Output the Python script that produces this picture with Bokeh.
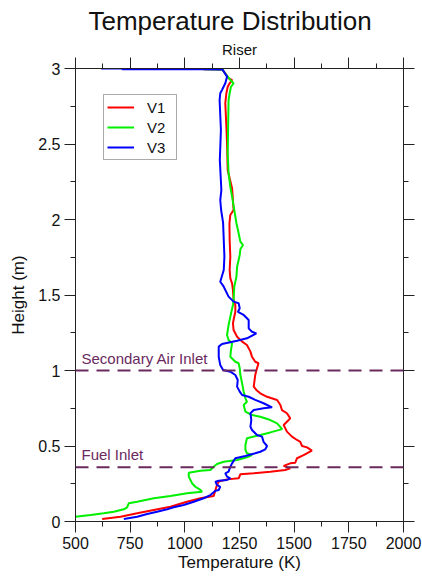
from bokeh.plotting import figure
from bokeh.models import LinearAxis, SingleIntervalTicker, Span, Label, Range1d, Title
from bokeh.embed import file_html
from bokeh.resources import INLINE

FONT = "Liberation Sans"

# Temperature profiles along the riser height (top of riser down to the bottom)
temp_v1 = [1085, 1172, 1185, 1200, 1216, 1205, 1196, 1190, 1185, 1190,
           1193, 1196, 1205, 1216, 1220, 1223, 1208, 1204, 1205, 1208,
           1205, 1208, 1216, 1220, 1223, 1231, 1231, 1226, 1220, 1223,
           1239, 1262, 1284, 1300, 1307, 1322, 1337, 1330, 1322, 1318,
           1315, 1327, 1345, 1376, 1422, 1437, 1444, 1467, 1482, 1467,
           1452, 1467, 1490, 1513, 1528, 1536, 1559, 1581, 1543, 1513,
           1505, 1482, 1452, 1482, 1459, 1391, 1315, 1254, 1246, 1193,
           1155, 1147, 1140, 1132, 1071, 1010, 934, 858, 782, 706,
           622]
height_v1 = [2.995, 2.993, 2.968, 2.935, 2.924, 2.902, 2.879, 2.836, 2.770, 2.615,
             2.505, 2.328, 2.273, 2.207, 2.129, 2.063, 2.030, 1.975, 1.864, 1.754,
             1.666, 1.611, 1.577, 1.533, 1.467, 1.434, 1.389, 1.356, 1.313, 1.268,
             1.224, 1.191, 1.169, 1.125, 1.091, 1.058, 1.048, 1.015, 0.970, 0.926,
             0.893, 0.871, 0.849, 0.826, 0.805, 0.772, 0.738, 0.717, 0.683, 0.661,
             0.639, 0.595, 0.562, 0.540, 0.528, 0.500, 0.491, 0.469, 0.440, 0.419,
             0.389, 0.385, 0.368, 0.352, 0.341, 0.330, 0.319, 0.313, 0.286, 0.279,
             0.264, 0.242, 0.209, 0.169, 0.154, 0.131, 0.098, 0.076, 0.054, 0.032,
             0.017]

temp_v2 = [1085, 1172, 1190, 1208, 1223, 1211, 1205, 1200, 1198, 1196,
           1200, 1208, 1216, 1226, 1236, 1246, 1254, 1266, 1254, 1251,
           1246, 1239, 1236, 1226, 1223, 1220, 1208, 1200, 1193, 1200,
           1216, 1211, 1208, 1231, 1246, 1251, 1254, 1262, 1269, 1277,
           1284, 1269, 1277, 1307, 1345, 1391, 1422, 1445, 1391, 1345,
           1284, 1277, 1277, 1284, 1307, 1284, 1239, 1178, 1147, 1132,
           1117, 1071, 1018, 1018, 1033, 1048, 1071, 1079, 1010, 934,
           858, 782, 744, 736, 721, 675, 629, 569, 500]
height_v2 = [2.995, 2.993, 2.957, 2.924, 2.902, 2.879, 2.836, 2.791, 2.615, 2.438,
             2.306, 2.217, 2.151, 2.063, 1.975, 1.909, 1.853, 1.831, 1.803, 1.765,
             1.732, 1.687, 1.621, 1.555, 1.467, 1.434, 1.356, 1.301, 1.235, 1.202,
             1.180, 1.136, 1.091, 1.058, 1.048, 1.015, 0.970, 0.915, 0.860, 0.816,
             0.793, 0.772, 0.727, 0.705, 0.694, 0.672, 0.650, 0.612, 0.590, 0.573,
             0.551, 0.507, 0.474, 0.452, 0.440, 0.425, 0.407, 0.396, 0.381, 0.363,
             0.341, 0.336, 0.323, 0.297, 0.253, 0.230, 0.209, 0.197, 0.187, 0.169,
             0.154, 0.131, 0.121, 0.094, 0.081, 0.065, 0.054, 0.043, 0.032]

temp_v3 = [617, 709, 715, 1085, 1172, 1193, 1185, 1170, 1162, 1159,
           1165, 1160, 1167, 1162, 1166, 1175, 1178, 1181, 1178, 1167,
           1162, 1178, 1200, 1223, 1246, 1251, 1243, 1269, 1292, 1292,
           1307, 1327, 1284, 1239, 1170, 1155, 1155, 1162, 1175, 1208,
           1231, 1242, 1239, 1251, 1262, 1292, 1322, 1360, 1399, 1360,
           1315, 1300, 1304, 1300, 1307, 1330, 1353, 1360, 1376, 1368,
           1345, 1322, 1277, 1231, 1216, 1208, 1200, 1185, 1193, 1208,
           1193, 1155, 1140, 1147, 1162, 1155, 1140, 1117, 1086, 1041,
           995, 949, 919, 873, 828, 782, 721]
height_v3 = [3.000, 3.000, 2.995, 2.995, 2.993, 2.946, 2.902, 2.858, 2.836, 2.791,
             2.593, 2.394, 2.195, 2.129, 2.063, 1.977, 1.864, 1.754, 1.666, 1.613,
             1.588, 1.555, 1.489, 1.456, 1.445, 1.412, 1.389, 1.368, 1.334, 1.279,
             1.257, 1.246, 1.213, 1.197, 1.175, 1.158, 1.091, 1.036, 1.003, 0.992,
             0.970, 0.937, 0.893, 0.860, 0.838, 0.826, 0.805, 0.783, 0.756, 0.750,
             0.738, 0.717, 0.672, 0.628, 0.606, 0.573, 0.562, 0.528, 0.500, 0.478,
             0.462, 0.452, 0.434, 0.419, 0.385, 0.363, 0.330, 0.319, 0.297, 0.286,
             0.275, 0.270, 0.264, 0.242, 0.230, 0.209, 0.204, 0.175, 0.154, 0.131,
             0.109, 0.094, 0.081, 0.065, 0.050, 0.032, 0.017]

series_names = ["V1", "V2", "V3"]
series_colors = ["#ff0000", "#00f000", "#0000ff"]

# Inlet heights (m) and their labels
inlet_heights = [1.0, 0.36]
inlet_names = ["Secondary Air Inlet", "Fuel Inlet"]
INLET_COLOR = "#6a2a5e"

x_tick_values = [500, 750, 1000, 1250, 1500, 1750, 2000]
y_tick_values = [0, 0.5, 1, 1.5, 2, 2.5, 3]
y_tick_labels = ["0", "0.5", "1", "1.5", "2", "2.5", "3"]

p = figure(width=422, height=576, x_range=Range1d(500, 2000), y_range=Range1d(0, 3),
           output_backend="svg", toolbar_location=None, title=None,
           min_border_left=75, min_border_right=19, min_border_top=68, min_border_bottom=55)
p.outline_line_color = None
p.xgrid.visible = False
p.ygrid.visible = False
p.background_fill_color = "white"


def style_axis(ax, labels=True, ticks=None):
    ax.axis_line_color = "#222222"
    ax.major_tick_line_color = "#222222"
    ax.minor_tick_line_color = "#222222"
    ax.major_tick_in = 0
    ax.major_tick_out = 11
    ax.minor_tick_in = 0
    ax.minor_tick_out = 5
    ax.major_label_standoff = 4
    ax.major_label_text_font = FONT
    ax.major_label_text_color = "#111111"
    if labels:
        ax.major_label_text_font_size = "16px"
    else:
        # mirrored axis: tick marks only
        ax.major_label_overrides = {t: "" for t in ticks}
        ax.major_label_text_font_size = "1px"
        ax.major_label_standoff = 0
    ax.axis_label_text_font = FONT
    ax.axis_label_text_font_size = "17px"
    ax.axis_label_text_font_style = "normal"
    ax.axis_label_text_color = "#111111"


xaxis = p.xaxis[0]
xaxis.ticker = SingleIntervalTicker(interval=250, num_minor_ticks=2)
xaxis.axis_label = "Temperature (K)"
style_axis(xaxis)
xaxis.axis_label_standoff = 1

yaxis = p.yaxis[0]
yaxis.ticker = SingleIntervalTicker(interval=0.5, num_minor_ticks=2)
yaxis.major_label_overrides = dict(zip(y_tick_values, y_tick_labels))
yaxis.axis_label = "Height (m)"
style_axis(yaxis)
yaxis.axis_label_standoff = 7

# Top axis carries the "Riser" caption
top_axis = LinearAxis(ticker=SingleIntervalTicker(interval=250, num_minor_ticks=2))
style_axis(top_axis, labels=False, ticks=x_tick_values)
top_axis.axis_label = "Riser"
top_axis.axis_label_text_font_size = "15px"
top_axis.axis_label_standoff = 0
p.add_layout(top_axis, "above")

right_axis = LinearAxis(ticker=SingleIntervalTicker(interval=0.5, num_minor_ticks=2))
style_axis(right_axis, labels=False, ticks=y_tick_values)
p.add_layout(right_axis, "right")

p.add_layout(Title(text="Temperature Distribution", align="left", offset=13, standoff=4,
                   text_font=FONT, text_font_size="26px", text_font_style="normal",
                   text_color="#111111"), "above")

# Temperature profiles
for temps, heights, name, color in zip([temp_v1, temp_v2, temp_v3],
                                       [height_v1, height_v2, height_v3],
                                       series_names, series_colors):
    p.line(temps, heights, line_color=color, line_width=2, legend_label=name)

# Inlet markers
for h, name in zip(inlet_heights, inlet_names):
    p.add_layout(Span(location=h, dimension="width", line_color=INLET_COLOR,
                      line_width=2, line_dash="13 8"))
    p.add_layout(Label(x=500, y=h, x_offset=6, y_offset=4, text=name,
                       text_font=FONT, text_font_size="15px", text_color=INLET_COLOR,
                       text_baseline="bottom"))

legend = p.legend[0]
legend.location = (28, 361)
legend.label_text_font = FONT
legend.label_text_font_size = "15px"
legend.label_text_color = "#111111"
legend.glyph_width = 27
legend.glyph_height = 18
legend.label_height = 18
legend.label_width = 26
legend.label_standoff = 13
legend.spacing = 2
legend.padding = 3
legend.margin = 0
legend.border_line_color = "#555555"
legend.border_line_width = 1
legend.background_fill_alpha = 1.0

open("out.html", "w").write(file_html(p, INLINE))
